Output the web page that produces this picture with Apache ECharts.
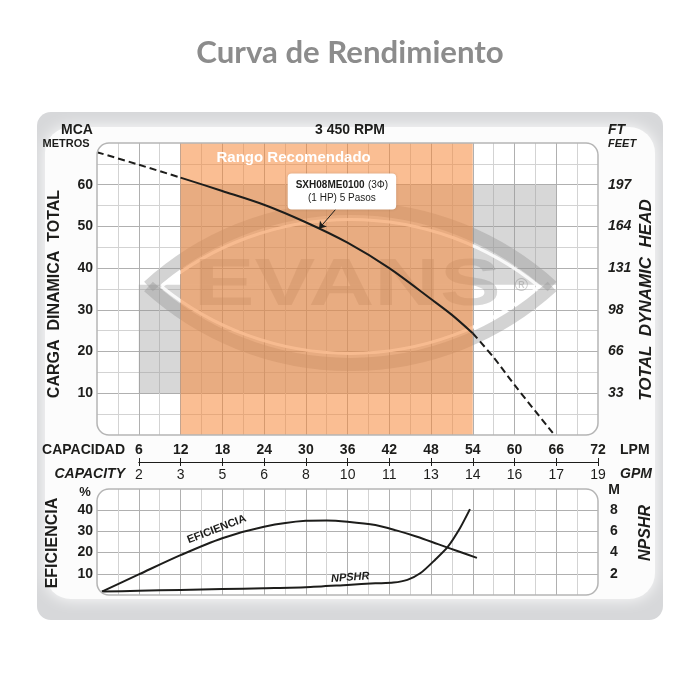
<!DOCTYPE html>
<html>
<head>
<meta charset="utf-8">
<script src="https://cdn.jsdelivr.net/npm/echarts@6/dist/echarts.min.js"></script>
<style>
html,body{margin:0;padding:0;background:#fff}
#main{width:700px;height:700px}
</style>
</head>
<body>
<div id="main"></div>
<script>
// ejes
var lpmTicks = [6, 12, 18, 24, 30, 36, 42, 48, 54, 60, 66, 72];
var gpmLabels = ['2', '3', '5', '6', '8', '10', '11', '13', '14', '16', '17', '19'];
var metrosTicks = [10, 20, 30, 40, 50, 60];
var feetLabels = ['33', '66', '98', '131', '164', '197'];
var efTicks = [10, 20, 30, 40];
var npshrTicks = [2, 4, 6, 8];

// curva de carga (LPM, metros)
var curvaQ = [0, 6, 12, 18, 24, 30, 36, 42, 48, 51, 54, 57, 60, 65.5];
var curvaH = [67.8, 64.8, 61.7, 58.5, 55.2, 51.0, 46.1, 40.0, 32.6, 28.8, 24.4, 18.6, 12.0, 0.5];
var rangoMin = 12, rangoMax = 54;

// eficiencia (%)
var efQ = [0.7, 6, 12, 18, 24, 30, 33, 36, 40, 43, 46, 49, 52, 54.6];
var efVal = [1.6, 9.7, 18.8, 26.8, 32.2, 35.0, 35.2, 34.6, 33.0, 30.5, 27.5, 24.0, 20.5, 17.5];

// NPSHR (m)
var npQ = [0.7, 6, 12, 18, 24, 30, 36, 40, 42.6, 44.6, 46.5, 48.6, 50.4, 52.2, 53.6];
var npVal = [0.32, 0.4, 0.48, 0.56, 0.64, 0.73, 0.95, 1.1, 1.17, 1.43, 2.07, 3.33, 4.54, 6.35, 8.1];

var fuente = "'Liberation Sans', Arial, sans-serif";
var negro = '#1d1d1b';
var lineaFuerte = '#b0b0b0';
var lineaSuave = '#d3d3d3';

function pares(xs, ys, desde, hasta) {
    var out = [];
    for (var i = 0; i < xs.length; i++) {
        if (xs[i] >= desde && xs[i] <= hasta) out.push([xs[i], ys[i]]);
    }
    return out;
}
function cargaEn(q) {
    for (var i = 1; i < curvaQ.length; i++) {
        if (q <= curvaQ[i]) {
            var t = (q - curvaQ[i - 1]) / (curvaQ[i] - curvaQ[i - 1]);
            return curvaH[i - 1] + t * (curvaH[i] - curvaH[i - 1]);
        }
    }
    return curvaH[curvaH.length - 1];
}

function ejeX(grid, intervalo, color, extra) {
    var e = {
        gridIndex: grid, type: 'value', min: 0, max: 72, interval: intervalo,
        axisLine: {show: false}, axisTick: {show: false}, axisLabel: {show: false},
        splitLine: {show: true, showMinLine: false, showMaxLine: false, lineStyle: {color: color, width: 1}}
    };
    return Object.assign(e, extra || {});
}

var estiloNum = {fontFamily: fuente, fontWeight: 'bold', fontSize: 14, color: negro};

var option = {
    animation: false,
    grid: [
        {left: 97, right: 102, top: 143, height: 292},
        {left: 139, right: 102, top: 462, height: 0},
        {left: 97, right: 102, top: 489, height: 106}
    ],
    xAxis: [
        ejeX(0, 3, lineaSuave),
        ejeX(0, 6, lineaFuerte),
        {
            gridIndex: 1, type: 'value', position: 'top', min: 6, max: 72, interval: 6,
            axisLine: {show: true, lineStyle: {color: negro, width: 1}},
            axisTick: {show: true, length: 4, lineStyle: {color: negro}},
            axisLabel: Object.assign({margin: 5, formatter: function (v) { return v; }}, estiloNum),
            splitLine: {show: false}
        },
        {
            gridIndex: 1, type: 'value', position: 'bottom', min: 6, max: 72, interval: 6,
            axisLine: {show: true, lineStyle: {color: negro, width: 1}},
            axisTick: {show: true, length: 4, lineStyle: {color: negro}},
            axisLabel: Object.assign({}, estiloNum, {margin: 6, fontWeight: 'normal', formatter: function (v) {
                var i = lpmTicks.indexOf(v);
                return i >= 0 ? gpmLabels[i] : '';
            }}),
            splitLine: {show: false}
        },
        ejeX(2, 3, lineaSuave),
        ejeX(2, 6, lineaFuerte)
    ],
    yAxis: [
        {
            gridIndex: 0, type: 'value', min: 0, max: 70, interval: 5,
            axisLine: {show: false}, axisTick: {show: false}, axisLabel: {show: false},
            splitLine: {show: true, showMinLine: false, showMaxLine: false, lineStyle: {color: lineaSuave}}
        },
        {
            gridIndex: 0, type: 'value', min: 0, max: 70, interval: 10, position: 'left',
            axisLine: {show: false}, axisTick: {show: false},
            axisLabel: Object.assign({margin: 4, formatter: function (v) {
                return metrosTicks.indexOf(v) >= 0 ? v : '';
            }}, estiloNum),
            splitLine: {show: true, showMinLine: false, showMaxLine: false, lineStyle: {color: lineaFuerte}}
        },
        {
            gridIndex: 0, type: 'value', min: 0, max: 70, interval: 10, position: 'right',
            axisLine: {show: false}, axisTick: {show: false},
            axisLabel: Object.assign({}, estiloNum, {margin: 10, fontStyle: 'italic', formatter: function (v) {
                var i = metrosTicks.indexOf(v);
                return i >= 0 ? feetLabels[i] : '';
            }}),
            splitLine: {show: false}
        },
        {gridIndex: 1, type: 'value', show: false},
        {
            gridIndex: 2, type: 'value', min: 0, max: 50, interval: 10, position: 'left',
            axisLine: {show: false}, axisTick: {show: false},
            axisLabel: Object.assign({margin: 4, formatter: function (v) {
                return efTicks.indexOf(v) >= 0 ? v : '';
            }}, estiloNum),
            splitLine: {show: true, showMinLine: false, showMaxLine: false, lineStyle: {color: lineaFuerte}}
        },
        {
            gridIndex: 2, type: 'value', min: 0, max: 10, interval: 2, position: 'right',
            axisLine: {show: false}, axisTick: {show: false},
            axisLabel: Object.assign({margin: 12, formatter: function (v) {
                return npshrTicks.indexOf(v) >= 0 ? v : '';
            }}, estiloNum),
            splitLine: {show: false}
        }
    ],
    series: [
        {
            name: 'rango', type: 'line', xAxisIndex: 1, yAxisIndex: 1, data: [], z: 2,
            markArea: {
                silent: true, z: 2,
                itemStyle: {color: '#f5883a', opacity: 0.55},
                label: {
                    show: true, position: 'insideTop', distance: 7, offset: [-33, 0],
                    color: '#ffffff', fontFamily: fuente, fontWeight: 'bold', fontSize: 15
                },
                data: [[{name: 'Rango Recomendado', xAxis: rangoMin, yAxis: 0}, {xAxis: rangoMax, yAxis: 70}]]
            }
        },
        {
            name: 'carga baja', type: 'line', xAxisIndex: 1, yAxisIndex: 1, smooth: 0.3, symbol: 'none', z: 5,
            lineStyle: {color: negro, width: 2, type: [7, 4]},
            data: pares(curvaQ, curvaH, 0, rangoMin)
        },
        {
            name: 'carga', type: 'line', xAxisIndex: 1, yAxisIndex: 1, smooth: 0.3, symbol: 'none', z: 5,
            lineStyle: {color: negro, width: 2},
            data: pares(curvaQ, curvaH, rangoMin, rangoMax),
            markPoint: {
                symbol: 'rect', symbolSize: 0, silent: true,
                label: {
                    show: true, position: 'inside',
                    backgroundColor: '#ffffff', borderRadius: 4, padding: [5, 8],
                    shadowColor: 'rgba(0,0,0,0.15)', shadowBlur: 3,
                    formatter: '{b|SXH08ME0100} {n|(3\u03A6)}\n{n|(1 HP) 5 Pasos}',
                    rich: {
                        b: {fontFamily: fuente, fontWeight: 'bold', fontSize: 10, color: negro, lineHeight: 13},
                        n: {fontFamily: fuente, fontSize: 10, color: negro, lineHeight: 13, align: 'center'}
                    }
                },
                data: [{coord: [35.2, 58.4]}]
            },
            markLine: {
                silent: true, symbolSize: 7,
                lineStyle: {color: negro, width: 1, type: 'solid'},
                label: {show: false},
                data: [[
                    {coord: [34.3, 54.1], symbol: 'none'},
                    {coord: [31.9, cargaEn(31.9)], symbol: 'arrow'}
                ]]
            }
        },
        {
            name: 'carga alta', type: 'line', xAxisIndex: 1, yAxisIndex: 1, smooth: 0.3, symbol: 'none', z: 5,
            lineStyle: {color: negro, width: 2, type: [7, 4]},
            data: pares(curvaQ, curvaH, rangoMax, 72)
        },
        {
            name: 'EFICIENCIA', type: 'line', xAxisIndex: 5, yAxisIndex: 4, smooth: 0.3, symbol: 'none', z: 5,
            lineStyle: {color: negro, width: 2},
            data: pares(efQ, efVal, 0, 72),
            markPoint: {
                symbol: 'rect', symbolSize: 0, silent: true,
                label: {show: true, position: 'inside', rotate: 21, formatter: 'EFICIENCIA',
                    fontFamily: fuente, fontWeight: 'bold', fontSize: 11, color: negro},
                data: [{coord: [17.2, 31]}]
            }
        },
        {
            name: 'NPSHR', type: 'line', xAxisIndex: 5, yAxisIndex: 5, smooth: 0.25, symbol: 'none', z: 5,
            lineStyle: {color: negro, width: 2},
            data: pares(npQ, npVal, 0, 72),
            markPoint: {
                symbol: 'rect', symbolSize: 0, silent: true,
                label: {show: true, position: 'inside', rotate: 4, formatter: 'NPSHR',
                    fontFamily: fuente, fontWeight: 'bold', fontStyle: 'italic', fontSize: 11, color: negro},
                data: [{coord: [36.4, 1.65]}]
            }
        }
    ]
};

var chart = echarts.init(document.getElementById('main'));
chart.setOption(option);

// posiciones en pixeles a partir de los ejes
function px(q, h) { return chart.convertToPixel({xAxisIndex: 1, yAxisIndex: 1}, [q, h]); }
function pxB(q, v) { return chart.convertToPixel({xAxisIndex: 5, yAxisIndex: 4}, [q, v]); }

function texto(t, x, y, size, o) {
    o = o || {};
    return {
        type: 'text', x: x, y: y, rotation: o.rot || 0, z: 20, silent: true,
        scaleX: o.sx || 1,
        style: {
            text: t,
            font: (o.italic ? 'italic ' : '') + (o.weight || 'bold') + ' ' + size + 'px ' + (o.family || fuente),
            fill: o.color || negro,
            textAlign: o.align || 'center',
            textVerticalAlign: 'middle'
        }
    };
}
function caja(p0, p1, z, style, r) {
    return {
        type: 'rect', z: z, silent: true,
        shape: {x: p0[0], y: p0[1], width: p1[0] - p0[0], height: p1[1] - p0[1], r: r || 0},
        style: style
    };
}
// ojo del logo: dos arcos de circulo entre las puntas
function ojo(x1, x2, y, h, estilo) {
    var c = (x2 - x1) / 2, xm = (x1 + x2) / 2;
    var R = (c * c + h * h) / (2 * h);
    var th = Math.asin(c / R);
    return [
        {type: 'arc', z: 1, silent: true,
            shape: {cx: xm, cy: y + (R - h), r: R, startAngle: -Math.PI / 2 - th, endAngle: -Math.PI / 2 + th, clockwise: true},
            style: estilo},
        {type: 'arc', z: 1, silent: true,
            shape: {cx: xm, cy: y - (R - h), r: R, startAngle: Math.PI / 2 - th, endAngle: Math.PI / 2 + th, clockwise: true},
            style: estilo}
    ];
}

var a0 = px(0, 70), a1 = px(72, 0);
var b0 = pxB(0, 50), b1 = pxB(72, 0);
var ojoL = px(7.4, 35.6), ojoR = px(65.4, 35.6);
var grisMarca = 'rgba(150,150,150,0.38)';

var graficos = [
    // panel de fondo
    {type: 'rect', z: -10, silent: true, shape: {x: 37, y: 112, width: 626, height: 508, r: 14},
        style: {fill: '#d7d8da'}},
    {type: 'rect', z: -9, silent: true, shape: {x: 45, y: 127, width: 610, height: 472, r: 26},
        style: {fill: '#fcfcfc', shadowBlur: 16, shadowColor: '#ffffff'}},
    caja(a0, a1, -8, {fill: '#ffffff'}, 12),
    caja(b0, b1, -8, {fill: '#ffffff'}, 12),
    // marca de agua
    caja(px(6, 36), px(54, 10), 1, {fill: grisMarca}),
    caja(px(12, 60), px(66, 36), 1, {fill: grisMarca})
];
graficos = graficos.concat(
    ojo(ojoL[0], ojoR[0], ojoL[1], 78, {fill: null, stroke: 'rgba(150,150,150,0.42)', lineWidth: 13}),
    ojo(ojoL[0] + 13, ojoR[0] - 13, ojoL[1], 67, {fill: null, stroke: 'rgba(255,255,255,0.85)', lineWidth: 3})
);
graficos = graficos.concat([
    {type: 'text', z: 1, silent: true, x: (ojoL[0] + ojoR[0]) / 2 - 3, y: ojoL[1], scaleX: 1.38,
        style: {text: 'EVANS', font: 'bold 66px ' + fuente, fill: 'rgba(140,140,140,0.34)',
            textAlign: 'center', textVerticalAlign: 'middle'}},
    {type: 'text', z: 1, silent: true, x: px(61, 0)[0], y: ojoL[1],
        style: {text: '\u00AE', font: '18px ' + fuente, fill: 'rgba(140,140,140,0.45)',
            textAlign: 'center', textVerticalAlign: 'middle'}},
    // bordes redondeados
    caja(a0, a1, 10, {fill: null, stroke: '#b5b5b5', lineWidth: 1.5}, 12),
    caja(b0, b1, 10, {fill: null, stroke: '#b5b5b5', lineWidth: 1.5}, 12),
    // textos
    texto('Curva de Rendimiento', 350, 53, 30, {color: '#8c8c8c', sx: 1.04, family: "Lato, 'Open Sans', sans-serif"}),
    texto('MCA', 77, 130, 14),
    texto('METROS', 66, 144, 11),
    texto('3 450 RPM', 350, 130, 14),
    texto('FT', 608, 130, 14, {italic: true, align: 'left'}),
    texto('FEET', 608, 144, 11, {italic: true, align: 'left'}),
    texto('CARGA  DINAMICA  TOTAL', 55, 294, 16, {rot: Math.PI / 2}),
    texto('TOTAL  DYNAMIC  HEAD', 646, 300, 17, {rot: Math.PI / 2, italic: true}),
    texto('CAPACIDAD', 125, 450, 14, {align: 'right'}),
    texto('LPM', 620, 450, 14, {align: 'left'}),
    texto('CAPACITY', 125, 474, 14, {align: 'right', italic: true}),
    texto('GPM', 620, 474, 14, {align: 'left', italic: true}),
    texto('%', 85, 492, 13),
    texto('M', 614, 490, 14),
    texto('EFICIENCIA', 53, 543, 16, {rot: Math.PI / 2}),
    texto('NPSHR', 646, 533, 16, {rot: Math.PI / 2, italic: true})
]);

chart.setOption({graphic: graficos});
</script>
</body>
</html>
